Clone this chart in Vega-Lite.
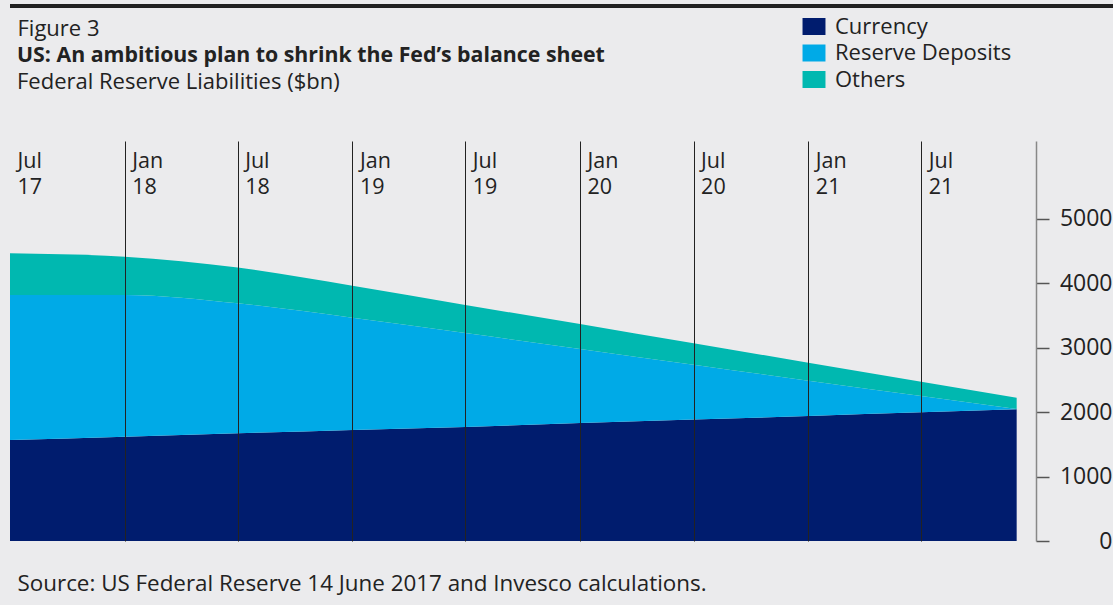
{
  "$schema": "https://vega.github.io/schema/vega-lite/v6.json",
  "autosize": {"type": "none"},
  "width": 1026,
  "height": 400,
  "padding": {"left": 10, "top": 141, "right": 77, "bottom": 64},
  "background": "#ebebed",
  "title": {
    "text": "US: An ambitious plan to shrink the Fed’s balance sheet",
    "subtitle": "Federal Reserve Liabilities ($bn)",
    "anchor": "start",
    "frame": "group",
    "orient": "top",
    "dx": 7,
    "offset": -88,
    "font": "Open Sans",
    "fontSize": 21.3,
    "fontWeight": "bold",
    "color": "#222222",
    "subtitleFont": "Open Sans",
    "subtitleFontSize": 22,
    "subtitleColor": "#222222",
    "subtitlePadding": 5
  },
  "config": {
    "view": {"stroke": null},
    "font": "Open Sans"
  },
  "data": {
    "values": [
      {"date": "2017-07-01T00:00:00", "series": "Currency", "value": 1570},
      {"date": "2018-01-01T00:00:00", "series": "Currency", "value": 1620},
      {"date": "2018-07-01T00:00:00", "series": "Currency", "value": 1672},
      {"date": "2019-01-01T00:00:00", "series": "Currency", "value": 1724},
      {"date": "2019-07-01T00:00:00", "series": "Currency", "value": 1770},
      {"date": "2020-01-01T00:00:00", "series": "Currency", "value": 1832},
      {"date": "2020-07-01T00:00:00", "series": "Currency", "value": 1885},
      {"date": "2021-01-01T00:00:00", "series": "Currency", "value": 1941},
      {"date": "2021-07-01T00:00:00", "series": "Currency", "value": 1998},
      {"date": "2021-12-01T00:00:00", "series": "Currency", "value": 2045},
      {"date": "2017-07-01T00:00:00", "series": "Reserve Deposits", "value": 2250},
      {"date": "2018-01-01T00:00:00", "series": "Reserve Deposits", "value": 2200},
      {"date": "2018-07-01T00:00:00", "series": "Reserve Deposits", "value": 2018},
      {"date": "2019-01-01T00:00:00", "series": "Reserve Deposits", "value": 1743},
      {"date": "2019-07-01T00:00:00", "series": "Reserve Deposits", "value": 1460},
      {"date": "2020-01-01T00:00:00", "series": "Reserve Deposits", "value": 1149},
      {"date": "2020-07-01T00:00:00", "series": "Reserve Deposits", "value": 850},
      {"date": "2021-01-01T00:00:00", "series": "Reserve Deposits", "value": 548},
      {"date": "2021-07-01T00:00:00", "series": "Reserve Deposits", "value": 253},
      {"date": "2021-12-01T00:00:00", "series": "Reserve Deposits", "value": 5},
      {"date": "2017-07-01T00:00:00", "series": "Others", "value": 647},
      {"date": "2018-01-01T00:00:00", "series": "Others", "value": 595},
      {"date": "2018-07-01T00:00:00", "series": "Others", "value": 555},
      {"date": "2019-01-01T00:00:00", "series": "Others", "value": 498},
      {"date": "2019-07-01T00:00:00", "series": "Others", "value": 435},
      {"date": "2020-01-01T00:00:00", "series": "Others", "value": 389},
      {"date": "2020-07-01T00:00:00", "series": "Others", "value": 335},
      {"date": "2021-01-01T00:00:00", "series": "Others", "value": 280},
      {"date": "2021-07-01T00:00:00", "series": "Others", "value": 223},
      {"date": "2021-12-01T00:00:00", "series": "Others", "value": 175}
    ]
  },
  "layer": [
    {
      "transform": [
        {"calculate": "indexof(['Currency','Reserve Deposits','Others'], datum.series)", "as": "stackOrder"}
      ],
      "mark": {"type": "area", "interpolate": "monotone", "strokeWidth": 0},
      "encoding": {
        "x": {
          "field": "date",
          "type": "temporal",
          "scale": {"domain": [{"year": 2017, "month": 7, "date": 1}, {"year": 2022, "month": 1, "date": 1}]},
          "axis": {
            "orient": "top",
            "values": [
              {"year": 2017, "month": 7, "date": 1},
              {"year": 2018, "month": 1, "date": 1},
              {"year": 2018, "month": 7, "date": 1},
              {"year": 2019, "month": 1, "date": 1},
              {"year": 2019, "month": 7, "date": 1},
              {"year": 2020, "month": 1, "date": 1},
              {"year": 2020, "month": 7, "date": 1},
              {"year": 2021, "month": 1, "date": 1},
              {"year": 2021, "month": 7, "date": 1}
            ],
            "labelExpr": "[timeFormat(datum.value, '%b'), timeFormat(datum.value, '%y')]",
            "labelAlign": "left",
            "labelBaseline": "alphabetic",
            "labelPadding": -26,
            "labelOffset": 7,
            "labelFontSize": 21.5,
            "labelLineHeight": 26,
            "labelColor": "#222222",
            "labelOverlap": false,
            "labelFlush": false,
            "labelBound": false,
            "domain": false,
            "ticks": false,
            "tickSize": 0,
            "grid": true,
            "gridColor": "#222222",
            "gridWidth": 1,
            "gridOpacity": {"condition": {"test": "year(datum.value) == 2017", "value": 0}, "value": 1},
            "zindex": 1,
            "title": "Source: US Federal Reserve 14 June 2017 and Invesco calculations.",
            "titleX": 7,
            "titleY": 449,
            "titleAlign": "left",
            "titleAnchor": "start",
            "titleBaseline": "alphabetic",
            "titleFontSize": 22.4,
            "titleFontWeight": "normal",
            "titleColor": "#222222"
          }
        },
        "y": {
          "field": "value",
          "type": "quantitative",
          "stack": "zero",
          "scale": {"domain": [0, 6211], "nice": false, "zero": true},
          "axis": {
            "orient": "right",
            "values": [0, 1000, 2000, 3000, 4000, 5000],
            "format": "d",
            "grid": false,
            "domain": true,
            "domainColor": "#888888",
            "domainWidth": 1.5,
            "ticks": true,
            "tickColor": "#555555",
            "tickWidth": 1.5,
            "tickSize": 13,
            "labelAlign": "right",
            "labelBaseline": "middle",
            "labelPadding": 63,
            "labelFontSize": 23,
            "labelColor": "#222222",
            "title": "Figure 3",
            "titleAngle": 0,
            "titleAlign": "left",
            "titleBaseline": "alphabetic",
            "titleX": -1019,
            "titleY": -106,
            "titleFontSize": 22,
            "titleFontWeight": "normal",
            "titleColor": "#222222"
          }
        },
        "color": {
          "field": "series",
          "type": "nominal",
          "sort": ["Currency", "Reserve Deposits", "Others"],
          "scale": {
            "domain": ["Currency", "Reserve Deposits", "Others"],
            "range": ["#001c6e", "#00aae7", "#00b8b0"]
          },
          "legend": {
            "orient": "none",
            "legendX": 793,
            "legendY": -125.5,
            "title": null,
            "padding": 0,
            "symbolType": "M-1.35,-1H1.35V1H-1.35Z",
            "symbolSize": 289,
            "symbolStrokeWidth": 0,
            "symbolOpacity": 1,
            "labelFontSize": 22,
            "labelLimit": 400,
            "labelColor": "#222222",
            "labelOffset": 10,
            "rowPadding": 4.5
          }
        },
        "order": {"field": "stackOrder", "type": "quantitative"}
      }
    },
    {
      "mark": {"type": "rule", "color": "#222222", "strokeWidth": 2.5, "clip": false},
      "encoding": {
        "x": {"datum": {"year": 2017, "month": 7, "date": 1}, "type": "temporal"},
        "x2": {"datum": {"year": 2022, "month": 6, "date": 1}},
        "y": {"datum": 8307, "type": "quantitative"}
      }
    }
  ]
}
